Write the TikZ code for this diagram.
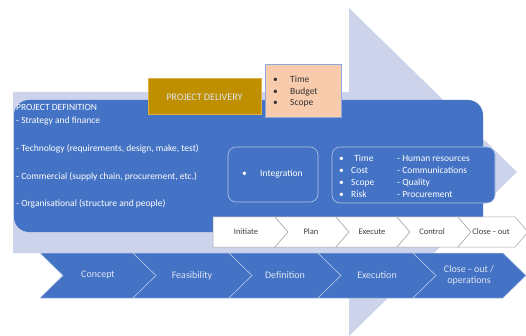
\documentclass[tikz,border=0pt]{standalone}
\usepackage{fontspec}
\setmainfont{Carlito}
\begin{document}
\begin{tikzpicture}[x=1pt,y=-1pt,
  every node/.style={inner sep=0pt, font=\fontsize{9.5}{11}\selectfont},
  wtxt/.style={text=white, anchor=west},
  chevb/.style={fill=blueM, draw=blueL, line width=0.5pt},
  chevw/.style={fill=white, draw=grayB, line width=0.5pt},
  wlab/.style={text=black!75, font=\fontsize{8.5}{10}\selectfont},
  blab/.style={text=chtxt, font=\fontsize{10}{12}\selectfont},
  innerbox/.style={draw=blueL, line width=0.6pt, rounded corners=8pt, fill=blueM},
]
\definecolor{blueM}{HTML}{4472C4}
\definecolor{blueL}{HTML}{B4C7E7}
\definecolor{lav}{HTML}{CDD3EA}
\definecolor{goldF}{HTML}{BF8F00}
\definecolor{goldB}{HTML}{E0B040}
\definecolor{salm}{HTML}{F8CBAD}
\definecolor{salmB}{HTML}{8FAADC}
\definecolor{grayB}{HTML}{A6A6A6}
\definecolor{chtxt}{HTML}{DDE5F4}
\useasboundingbox (0,0) rectangle (526,336);
\fill[white] (0,0) rectangle (526,336);
% big background arrow
\fill[lav] (13,92) -- (349,92) -- (349,8) -- (517,172) -- (349,336) -- (349,253) -- (13,253) -- cycle;
% main blue rounded box
\fill[blueM, rounded corners=15pt] (14,100) rectangle (483,232);
% project delivery
\node[draw=goldB, fill=goldF, line width=1pt, minimum width=113pt, minimum height=36pt, text=chtxt, font=\fontsize{10}{12}\selectfont] (pd) at (204.5,97) {PROJECT DELIVERY};
% salmon box
\node[draw=salmB, fill=salm, line width=1pt, minimum width=76pt, minimum height=53pt] (tbs) at (303,91.5) {};
\node[anchor=west, text=black!80, align=left, font=\fontsize{9.5}{11.5}\selectfont] (tbsT) at (273,91.5) {%
  \makebox[17pt][l]{•}Time\\\makebox[17pt][l]{•}Budget\\\makebox[17pt][l]{•}Scope};
% definition texts
\node[wtxt] (pdef) at (16,107) {PROJECT DEFINITION};
\node[wtxt] (l1) at (16,121) {- Strategy and finance};
\node[wtxt] (l2) at (16,149) {- Technology (requirements, design, make, test)};
\node[wtxt] (l3) at (16,177) {- Commercial (supply chain, procurement, etc.)};
\node[wtxt] (l4) at (16,204) {- Organisational (structure and people)};
% integration
\node[innerbox, minimum width=90pt, minimum height=55pt] (integ) at (273,174.5) {};
\node[text=white, anchor=west] (integT) at (242,174.5) {\makebox[18pt][l]{•}Integration};
% knowledge areas
\node[innerbox, minimum width=163pt, minimum height=56pt] (ka) at (413.5,175) {};
\node[text=white, anchor=west, align=left, font=\fontsize{9.5}{12}\selectfont] (kaA) at (339,176) {%
  \makebox[12pt][l]{•}\,\,Time\\\makebox[12pt][l]{•}Cost\\\makebox[12pt][l]{•}Scope\\\makebox[12pt][l]{•}Risk};
\node[text=white, anchor=west, align=left, font=\fontsize{9.5}{12}\selectfont] (kaB) at (397,176) {%
  - Human resources\\- Communications\\- Quality\\- Procurement};
% white chevrons
\draw[chevw] (213,217) -- (275,217) -- (288,232) -- (275,247) -- (213,247) -- cycle;
\foreach \a/\b in {275/336,336/397,397/458,458/515}{
  \draw[chevw] (\a,217) -- (\b,217) -- (\b+13,232) -- (\b,247) -- (\a,247) -- (\a+13,232) -- cycle;
}
\node[wlab] (ini) at (246,232) {Initiate};
\node[wlab] (pla) at (311,232) {Plan};
\node[wlab] (exe) at (372,232) {Execute};
\node[wlab] (con) at (432,232) {Control};
\node[wlab] (clo) at (491,232) {Close\,–\,out};
% blue chevrons
\foreach \a/\b in {40/133,133/229,229/318,318/413,413/503}{
  \draw[chevb] (\a,253) -- (\b,253) -- (\b+23,275.5) -- (\b,298) -- (\a,298) -- (\a+23,275.5) -- cycle;
}
\node[blab] (c1) at (98,275.5) {Concept};
\node[blab] (c2) at (192,275.5) {Feasibility};
\node[blab] (c3) at (285,275.5) {Definition};
\node[blab] (c4) at (377,275.5) {Execution};
\node[blab, align=center, font=\fontsize{10}{11}\selectfont] (c5) at (469,275.5) {Close\,–\,out /\\operations};
\end{tikzpicture}
\end{document}
